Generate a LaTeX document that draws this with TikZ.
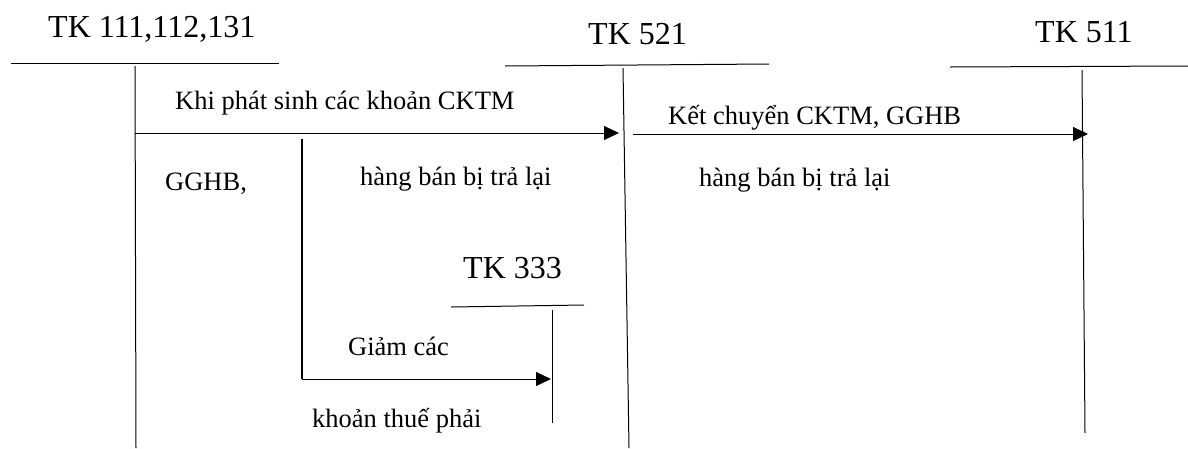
\documentclass[tikz,border=0pt]{standalone}
\usepackage{fontspec}
\setmainfont{Liberation Serif}
\usetikzlibrary{arrows.meta}
\begin{document}
\begin{tikzpicture}[x=1pt,y=-1pt,
  acct/.style={anchor=base west,inner sep=0pt,font=\fontsize{32}{36}\selectfont},
  lbl/.style={anchor=base west,inner sep=0pt,font=\fontsize{26.5}{30}\selectfont},
  tline/.style={line width=1pt},
  flow/.style={line width=1pt,-{Triangle[length=15pt,width=14pt]}},
  thick branch/.style={line width=2pt}]
\useasboundingbox (0,0) rectangle (1188,448);

% T-account TK 111,112,131
\node[acct] (t111) at (48,37) {TK 111,112,131};
\coordinate (h111a) at (11,63);
\coordinate (h111b) at (279,63);
\coordinate (v111a) at (135,66);
\coordinate (v111b) at (136,448);
\draw[tline] (h111a) -- (h111b);
\draw[tline] (v111a) -- (v111b);

% T-account TK 521
\node[acct] (t521) at (588,44) {TK 521};
\coordinate (h521a) at (505,66);
\coordinate (h521b) at (769,64);
\coordinate (v521a) at (623,68);
\coordinate (v521b) at (629,448);
\draw[tline] (h521a) -- (h521b);
\draw[tline] (v521a) -- (v521b);

% T-account TK 511
\node[acct] (t511) at (1035,42) {TK 511};
\coordinate (h511a) at (950,67);
\coordinate (h511b) at (1188,66);
\coordinate (v511a) at (1082,70);
\coordinate (v511b) at (1085,433);
\draw[tline] (h511a) -- (h511b);
\draw[tline] (v511a) -- (v511b);

% T-account TK 333
\node[acct] (t333) at (463,278) {TK 333};
\coordinate (h333a) at (451,307);
\coordinate (h333b) at (584,305);
\coordinate (v333a) at (552,310);
\coordinate (v333b) at (552,423);
\draw[tline] (h333a) -- (h333b);
\draw[tline] (v333a) -- (v333b);

% flow 111 -> 521
\coordinate (f1a) at (135,133);
\coordinate (f1b) at (619,133);
\draw[flow] (f1a) -- (f1b);
\node[lbl] (l1) at (175,109) {Khi phát sinh các khoản CKTM};
\node[lbl] (l2) at (165,190) {GGHB,};
\node[lbl] (l3) at (360,185) {hàng bán bị trả lại};

% flow 521 -> 511
\coordinate (f2a) at (633,134);
\coordinate (f2b) at (1088,134);
\draw[flow] (f2a) -- (f2b);
\node[lbl] (l4) at (668,124) {Kết chuyển CKTM, GGHB};
\node[lbl] (l5) at (699,186) {hàng bán bị trả lại};

% branch to TK 333
\coordinate (b1) at (302,139);
\coordinate (b2) at (302,379);
\coordinate (f3b) at (551,379);
\draw[thick branch] (b1) -- (b2);
\draw[flow] (b2) -- (f3b);
\node[lbl] (l6) at (348,355) {Giảm các};
\node[lbl] (l7) at (312,427) {khoản thuế phải};
\end{tikzpicture}
\end{document}
